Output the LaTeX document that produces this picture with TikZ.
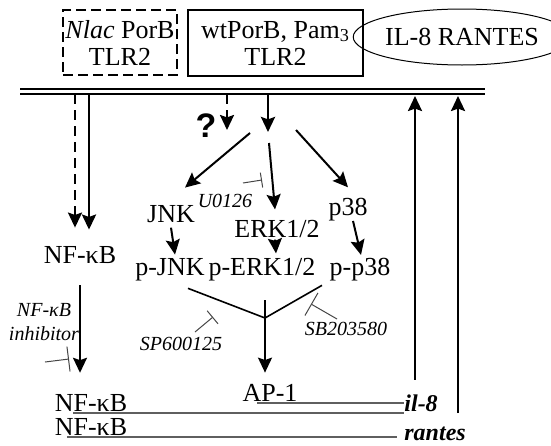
\documentclass[tikz,border=0pt]{standalone}
\usepackage{fontspec}
\setmainfont{Liberation Serif}
\newfontfamily\qmarkfont{Liberation Sans}
\usetikzlibrary{arrows.meta,shapes.geometric}
\definecolor{ink}{RGB}{0,0,0}
\definecolor{mrna}{RGB}{95,95,95}
\definecolor{blocker}{RGB}{70,70,70}
\tikzset{
  lbl/.style={inner sep=0pt,anchor=base,font=\fontsize{13}{13.5}\selectfont},
  drug/.style={inner sep=0pt,anchor=base,font=\fontsize{10}{12}\selectfont\itshape},
  gene/.style={inner sep=0pt,anchor=base west,font=\fontsize{12}{14}\selectfont\bfseries\itshape},
  rcpt/.style={draw=ink,line width=1pt,minimum width=87.5pt,minimum height=33pt,inner sep=0pt,align=center,font=\fontsize{13}{13.5}\selectfont},
  arr/.style={-{Stealth[length=7.5pt,width=7pt,inset=1.2pt]},draw=ink,line width=1.2pt},
  darr/.style={arr,dash pattern=on 5pt off 3pt},
  blk/.style={-{Bar[width=#1]},draw=blocker,line width=0.5pt},
  memb/.style={draw=ink,line width=1pt},
  msg/.style={draw=mrna,line width=1pt}
}
\begin{document}
\begin{tikzpicture}[x=0.5pt,y=-0.5pt]
  \useasboundingbox (0,0) rectangle (551,445);
  % receptors and secreted products
  \node[rcpt,dash pattern=on 5pt off 2.5pt,minimum width=57pt,minimum height=32.5pt] (nlac) at (120,42.5) {\textit{Nlac} PorB\\TLR2};
  \node[rcpt] (wt) at (275.5,43) {wtPorB, Pam\textsubscript{3}\\TLR2};
  \node[ellipse,draw=ink,line width=0.5pt,minimum width=87.5pt,minimum height=28pt,inner sep=0pt,font=\fontsize{13}{13.5}\selectfont] (cyto) at (462,37) {IL-8 RANTES};
  % membrane
  \draw[memb] (20,89) -- (485,89);
  \draw[memb] (20,94) -- (485,94);
  \coordinate (m1) at (75,94);
  \coordinate (m2) at (89,94);
  \coordinate (m3) at (227,94);
  \coordinate (m4) at (268,94);
  \coordinate (m5) at (415,96);
  \coordinate (m6) at (458,96);
  \coordinate (qend) at (227,130);
  \coordinate (hub) at (268,132);
  \coordinate (bj) at (250,133);
  \coordinate (be) at (269,143);
  \coordinate (bp) at (296,130);
  \coordinate (yj) at (265,318);
  \coordinate (ys) at (265,300);
  % signalling molecules
  \node[lbl] (nfkb) at (80,263) {NF-κB};
  \node[lbl] (jnk) at (171,222) {JNK};
  \node[lbl] (erk) at (277,237) {ERK1/2};
  \node[lbl] (p38) at (348,215) {p38};
  \node[lbl] (pjnk) at (170,275) {p-JNK};
  \node[lbl] (perk) at (262,275) {p-ERK1/2};
  \node[lbl] (pp38) at (360,275) {p-p38};
  \node[lbl] (ap1) at (270,401) {AP-1};
  \node[lbl] (nfkbA) at (91,411) {NF-κB};
  \node[lbl] (nfkbB) at (91,435) {NF-κB};
  \node[gene] (il8) at (404,411) {il-8};
  \node[gene] (rantes) at (404,440) {rantes};
  \node[inner sep=0pt,anchor=base,font=\qmarkfont\bfseries\fontsize{17}{17}\selectfont] (qm) at (206,137) {?};
  % inhibitors
  \node[drug] (u0126) at (225,207) {U0126};
  \node[drug] (sp) at (181,350) {SP600125};
  \node[drug] (sb) at (346,335) {SB203580};
  \node[drug,align=center,anchor=center] (nfinh) at (44,322.5) {NF-κB\\inhibitor};
  % arrows
  \draw[darr,shorten >=9pt] (m1) -- (m1 |- nfkb.north);
  \draw[arr,line width=1.4pt,shorten >=8pt] (m2) -- (m2 |- nfkb.north);
  \draw[darr] (m3) -- (qend);
  \draw[arr,line width=1.4pt] (m4) -- (hub);
  \draw[arr,line width=1pt] (bj) -- ([xshift=7pt,yshift=8.5pt]jnk.north);
  \draw[arr,line width=1pt] (be) -- ([xshift=-1pt,yshift=5pt]erk.north);
  \draw[arr,line width=1pt] (bp) -- ([yshift=5pt]p38.north);
  \draw[arr,line width=1pt] ([yshift=-2.5pt]jnk.south) -- ([xshift=2.5pt,yshift=1.5pt]pjnk.north);
  \draw[arr,line width=1pt] ([xshift=-1pt,yshift=-1pt]erk.south) -- ([xshift=7pt,yshift=2pt]perk.north);
  \draw[arr,line width=1pt] ([xshift=2.5pt]p38.south) -- ([xshift=0.5pt,yshift=1.2pt]pp38.north);
  \draw[line width=0.8pt] ([xshift=9pt,yshift=-3.7pt]pjnk.south) -- (yj);
  \draw[line width=0.8pt] ([xshift=-19pt,yshift=-2.2pt]pp38.south) -- (yj);
  \draw[arr,line width=1pt] (ys) -- ([xshift=-2.5pt,yshift=5.4pt]ap1.north);
  \draw[arr,line width=1pt] ([yshift=-11pt]nfkb.south) -- ([xshift=-5.5pt,yshift=10.4pt]nfkbA.north);
  \draw[arr] ([yshift=7pt]il8.north -| m5) -- (m5);
  \draw[arr] ([yshift=6.5pt]rantes.north -| m6) -- (m6);
  % inhibition marks
  \coordinate (i1a) at (45,362);   \coordinate (i1b) at (69,359);
  \coordinate (i2a) at (243,183);  \coordinate (i2b) at (262,180);
  \coordinate (i3a) at (195,332);  \coordinate (i3b) at (213,317);
  \coordinate (i4a) at (337,319);  \coordinate (i4b) at (311,304);
  \draw[blk=12.5pt] (i1a) -- (i1b);
  \draw[blk=7.5pt] (i2a) -- (i2b);
  \draw[blk=8.5pt] (i3a) -- (i3b);
  \draw[blk=13pt] (i4a) -- (i4b);
  % transcripts
  \draw[msg] (73,413) -- (404,413);
  \draw[msg] (257,403) -- (404,403);
  \draw[msg] (67,437) -- (397,437);
\end{tikzpicture}
\end{document}
